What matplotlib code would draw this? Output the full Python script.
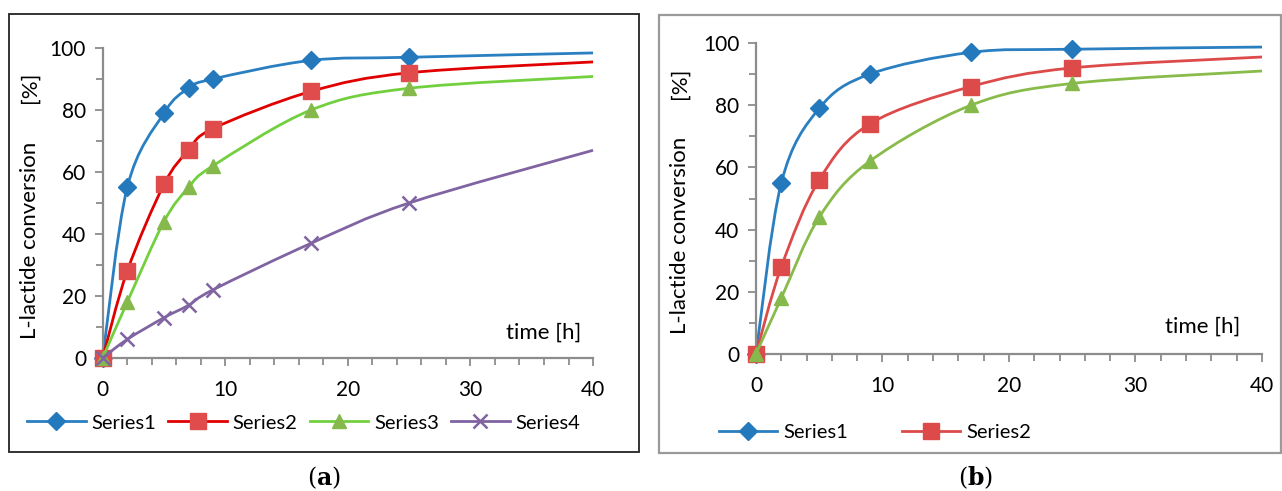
import matplotlib.pyplot as plt
import numpy as np
from matplotlib.path import Path
from matplotlib.patches import PathPatch, Rectangle
from matplotlib.ticker import MultipleLocator

plt.rcParams['font.family'] = ['Lato', 'DejaVu Sans']

# measured time points [h] and L-lactide conversion [%]
waktu_a = [0, 2, 5, 7, 9, 17, 25]
seri1_a = [0, 55, 79, 87, 90, 96, 97]
seri2_a = [0, 28, 56, 67, 74, 86, 92]
seri3_a = [0, 18, 44, 55, 62, 80, 87]
seri4_a = [0, 6, 13, 17, 22, 37, 50]

waktu_b = [0, 2, 5, 9, 17, 25]
seri1_b = [0, 55, 79, 90, 97, 98]
seri2_b = [0, 28, 56, 74, 86, 92]
seri3_b = [0, 18, 44, 62, 80, 87]

# trend line end at t = 40 h (no marker)
waktu_akhir = 40
akhir_a = [98.4, 95.5, 90.8, 67]
akhir_b = [98.7, 95.5, 91]

nama_seri = ['Series1', 'Series2', 'Series3', 'Series4']


def kurva_halus(ax, x, y, warna, lw=2.0, z=2):
    # Excel-like smoothed line: cubic bezier through every point
    p = np.column_stack([x, y]).astype(float)
    n = len(p)
    verts = [p[0]]
    codes = [Path.MOVETO]
    for i in range(n - 1):
        p0 = p[i - 1] if i > 0 else p[i]
        p3 = p[i + 2] if i + 2 < n else p[i + 1]
        c1 = p[i] + (p[i + 1] - p0) / 6
        c2 = p[i + 1] - (p3 - p[i]) / 6
        verts += [c1, c2, p[i + 1]]
        codes += [Path.CURVE4] * 3
    ax.add_patch(PathPatch(Path(verts, codes), fill=False, edgecolor=warna,
                           lw=lw, zorder=z, clip_on=False, capstyle='butt'))


def atur_sumbu(ax):
    ax.set_xlim(0, 40)
    ax.set_ylim(0, 100)
    ax.xaxis.set_major_locator(MultipleLocator(10))
    ax.xaxis.set_minor_locator(MultipleLocator(2))
    ax.yaxis.set_major_locator(MultipleLocator(20))
    ax.yaxis.set_minor_locator(MultipleLocator(10))
    for s in ['top', 'right']:
        ax.spines[s].set_visible(False)
    for s in ['left', 'bottom']:
        ax.spines[s].set_color('#8c8c8c')
        ax.spines[s].set_linewidth(1.6)
    ax.tick_params(which='major', direction='out', length=6, width=1.3,
                   color='#8c8c8c', labelsize=15, pad=6)
    ax.tick_params(which='minor', direction='out', length=5, width=1.3,
                   color='#8c8c8c')
    ax.tick_params(axis='x', pad=10)


def label_sumbu(ax, x, y_label, y_persen):
    ax.text(x, y_label, 'L-lactide conversion', transform=ax.transAxes,
            rotation=90, fontsize=16, ha='center', va='center')
    ax.text(x, y_persen, '[%]', transform=ax.transAxes, rotation=90,
            fontsize=16, ha='center', va='center')


fig = plt.figure(figsize=(12.82, 4.91), dpi=100)

# frames of the two panels
fig.patches.append(Rectangle((9 / 1282, 1 - 452 / 491), 630 / 1282, 438 / 491,
                             transform=fig.transFigure, fill=False,
                             edgecolor='#222222', lw=1.3))
fig.patches.append(Rectangle((659 / 1282, 1 - 453 / 491), 622 / 1282, 438 / 491,
                             transform=fig.transFigure, fill=False,
                             edgecolor='#9a9a9a', lw=1.6))

# ---------- panel (a) ----------
ax1 = fig.add_axes([0.0801, 0.2709, 0.3825, 0.6314])
atur_sumbu(ax1)
data_a = [seri1_a, seri2_a, seri3_a, seri4_a]
garis_a = ['#2a7fc1', '#e00000', '#72d03f', '#8064a2']
penanda_a = ['#2478bc', '#e04b4b', '#86b94c', '#8064a2']
simbol = ['D', 's', '^', 'x']
ukuran = [9, 11, 10, 10]
handles = []
for k, ys in enumerate(data_a):
    kurva_halus(ax1, waktu_a + [waktu_akhir], ys + [akhir_a[k]], garis_a[k], z=2 + k)
    ax1.plot(waktu_a, ys, linestyle='none', marker=simbol[k], ms=ukuran[k],
             color=penanda_a[k], mec=penanda_a[k], mew=1.8 if k == 3 else 1,
             zorder=2.5 + k, clip_on=False)
    handles.append(plt.Line2D([], [], color=garis_a[k], lw=2, marker=simbol[k],
                              ms=ukuran[k], mfc=penanda_a[k], mec=penanda_a[k],
                              mew=1.8 if k == 3 else 1))
label_sumbu(ax1, -0.148, 0.38, 0.874)
ax1.text(0.9755, 0.081, 'time [h]', transform=ax1.transAxes, fontsize=16,
         ha='right', va='center')
fig.legend(handles, nama_seri, loc='center', bbox_to_anchor=(0.237, 0.1385),
           ncol=4, frameon=False, fontsize=14.5, handlelength=2.9,
           handletextpad=0.3, columnspacing=0.6, numpoints=1)

# ---------- panel (b) ----------
ax2 = fig.add_axes([0.5897, 0.279, 0.3947, 0.6334])
atur_sumbu(ax2)
data_b = [seri1_b, seri2_b, seri3_b]
garis_b = ['#2a7fc1', '#dc4a4a', '#88bb4a']
penanda_b = ['#2478bc', '#dc4a4a', '#86b94c']
handles_b = []
for k, ys in enumerate(data_b):
    kurva_halus(ax2, waktu_b + [waktu_akhir], ys + [akhir_b[k]], garis_b[k], z=2 + k)
    ax2.plot(waktu_b, ys, linestyle='none', marker=simbol[k], ms=ukuran[k],
             color=penanda_b[k], mec=penanda_b[k], zorder=2.5 + k, clip_on=False)
    handles_b.append(plt.Line2D([], [], color=garis_b[k], lw=2, marker=simbol[k],
                                ms=ukuran[k], mfc=penanda_b[k], mec=penanda_b[k]))
label_sumbu(ax2, -0.15, 0.38, 0.871)
ax2.text(0.958, 0.087, 'time [h]', transform=ax2.transAxes, fontsize=16,
         ha='right', va='center')
fig.legend(handles_b[:2], nama_seri[:2], loc='center', bbox_to_anchor=(0.6825, 0.12),
           ncol=2, frameon=False, fontsize=14.5, handlelength=2.9,
           handletextpad=0.3, columnspacing=2.7, numpoints=1)

# panel letters
fig.text(324 / 1282, 1 - 478 / 491, r'($\mathbf{a}$)', ha='center', va='center',
         fontsize=17, family='DejaVu Serif', math_fontfamily='dejavuserif')
fig.text(976 / 1282, 1 - 478 / 491, r'($\mathbf{b}$)', ha='center', va='center',
         fontsize=17, family='DejaVu Serif', math_fontfamily='dejavuserif')

plt.savefig('out.png', dpi=100)
